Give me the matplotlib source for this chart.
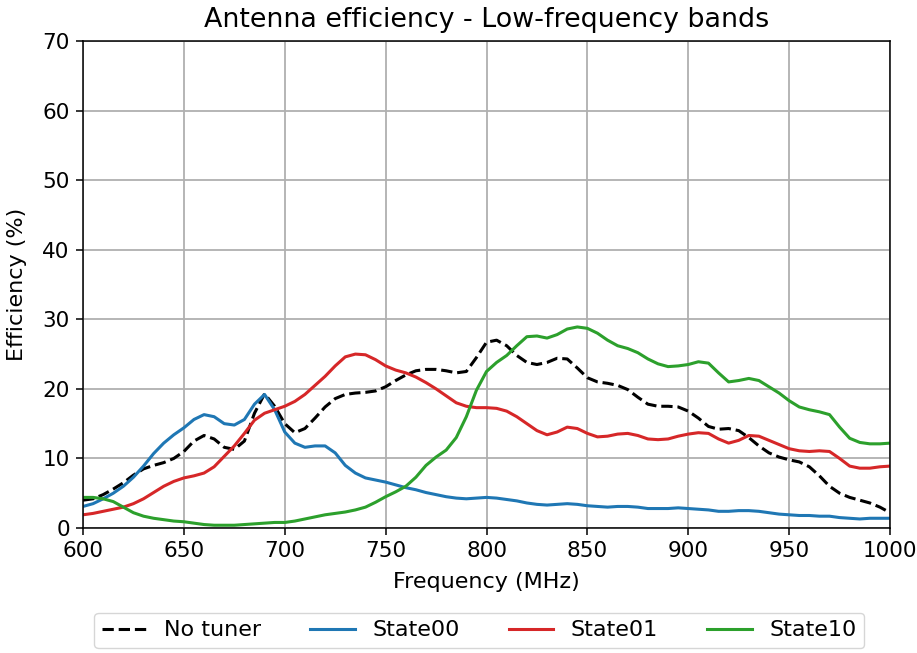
import numpy as np
import matplotlib
matplotlib.use("Agg")
import matplotlib.pyplot as plt

# frequency axis in MHz, 5 MHz steps
freq = list(range(600, 1001, 5))

no_tuner = [4.0, 4.2, 4.8, 5.6, 6.5, 7.6, 8.5, 9.0, 9.4, 10.0,
            11.0, 12.5, 13.3, 12.8, 11.6, 11.3, 12.5, 16.5, 19.3, 17.5,
            15.0, 13.7, 14.3, 15.8, 17.4, 18.6, 19.2, 19.4, 19.5, 19.7,
            20.3, 21.2, 22.0, 22.6, 22.8, 22.8, 22.6, 22.3, 22.5, 24.5,
            26.7, 27.0, 26.2, 24.8, 23.8, 23.5, 23.8, 24.4, 24.3, 23.0,
            21.6, 21.0, 20.8, 20.5, 19.9, 18.8, 17.8, 17.5, 17.5, 17.4,
            16.8, 15.8, 14.6, 14.2, 14.3, 14.0, 13.0, 11.8, 10.8, 10.2,
            9.8, 9.5, 8.8, 7.5, 6.0, 5.0, 4.4, 4.0, 3.6, 3.0, 2.2]

state00 = [3.1, 3.5, 4.2, 5.0, 6.0, 7.3, 8.9, 10.7, 12.2, 13.4,
           14.4, 15.6, 16.3, 16.0, 15.0, 14.8, 15.6, 17.8, 19.2, 17.0,
           13.8, 12.2, 11.6, 11.8, 11.8, 10.8, 9.0, 7.9, 7.2, 6.9,
           6.6, 6.2, 5.8, 5.5, 5.1, 4.8, 4.5, 4.3, 4.2, 4.3,
           4.4, 4.3, 4.1, 3.9, 3.6, 3.4, 3.3, 3.4, 3.5, 3.4,
           3.2, 3.1, 3.0, 3.1, 3.1, 3.0, 2.8, 2.8, 2.8, 2.9,
           2.8, 2.7, 2.6, 2.4, 2.4, 2.5, 2.5, 2.4, 2.2, 2.0,
           1.9, 1.8, 1.8, 1.7, 1.7, 1.5, 1.4, 1.3, 1.4, 1.4, 1.4]

state01 = [1.9, 2.1, 2.4, 2.7, 3.0, 3.5, 4.2, 5.1, 6.0, 6.7,
           7.2, 7.5, 7.9, 8.8, 10.3, 11.8, 13.6, 15.5, 16.5, 17.0,
           17.5, 18.2, 19.2, 20.5, 21.8, 23.3, 24.6, 25.0, 24.9, 24.2,
           23.3, 22.7, 22.3, 21.7, 20.9, 20.0, 19.0, 18.0, 17.5, 17.3,
           17.3, 17.2, 16.8, 16.0, 15.0, 14.0, 13.4, 13.8, 14.5, 14.3,
           13.6, 13.1, 13.2, 13.5, 13.6, 13.3, 12.8, 12.7, 12.8, 13.2,
           13.5, 13.7, 13.6, 12.8, 12.2, 12.6, 13.3, 13.2, 12.6, 12.0,
           11.4, 11.1, 11.0, 11.1, 11.0, 10.0, 8.9, 8.6, 8.6, 8.8, 8.9]

state10 = [4.4, 4.4, 4.2, 3.8, 3.0, 2.2, 1.7, 1.4, 1.2, 1.0,
           0.9, 0.7, 0.5, 0.4, 0.4, 0.4, 0.5, 0.6, 0.7, 0.8,
           0.8, 1.0, 1.3, 1.6, 1.9, 2.1, 2.3, 2.6, 3.0, 3.7,
           4.5, 5.2, 6.0, 7.3, 9.0, 10.2, 11.2, 13.0, 16.0, 19.8,
           22.5, 23.8, 24.8, 26.2, 27.5, 27.6, 27.3, 27.8, 28.6, 28.9,
           28.7, 28.0, 27.0, 26.2, 25.8, 25.2, 24.3, 23.6, 23.2, 23.3,
           23.5, 23.9, 23.7, 22.3, 21.0, 21.2, 21.5, 21.2, 20.3, 19.4,
           18.3, 17.4, 17.0, 16.7, 16.3, 14.5, 12.9, 12.3, 12.1, 12.1, 12.2]

fig = plt.figure(figsize=(9.17, 6.53), dpi=100)
ax = fig.add_axes([0.0905, 0.1914, 0.8801, 0.7458])

ax.plot(freq, no_tuner, color="black", linestyle="--", linewidth=2.2, label="No tuner")
ax.plot(freq, state00, color="tab:blue", linewidth=2.2, label="State00")
ax.plot(freq, state01, color="tab:red", linewidth=2.2, label="State01")
ax.plot(freq, state10, color="tab:green", linewidth=2.2, label="State10")

ax.set_xlim(600, 1000)
ax.set_ylim(0, 70)
ax.set_xticks(range(600, 1001, 50))
ax.set_yticks(range(0, 71, 10))
ax.tick_params(labelsize=15.5, length=5, width=1.1, pad=4.5)
for sp in ax.spines.values():
    sp.set_linewidth(1.1)
ax.grid(True, color="#b0b0b0", linewidth=1.3)
ax.set_axisbelow(True)

ax.set_title("Antenna efficiency - Low-frequency bands", fontsize=19.4, pad=10)
ax.set_xlabel("Frequency (MHz)", fontsize=16, labelpad=8)
ax.set_ylabel("Efficiency (%)", fontsize=16, labelpad=11)

ax.legend(loc="upper center", bbox_to_anchor=(0.491, -0.151), ncol=4,
          fontsize=16, handlelength=2.0, columnspacing=2.2, borderpad=0.35)

fig.savefig("out.png", dpi=100)
